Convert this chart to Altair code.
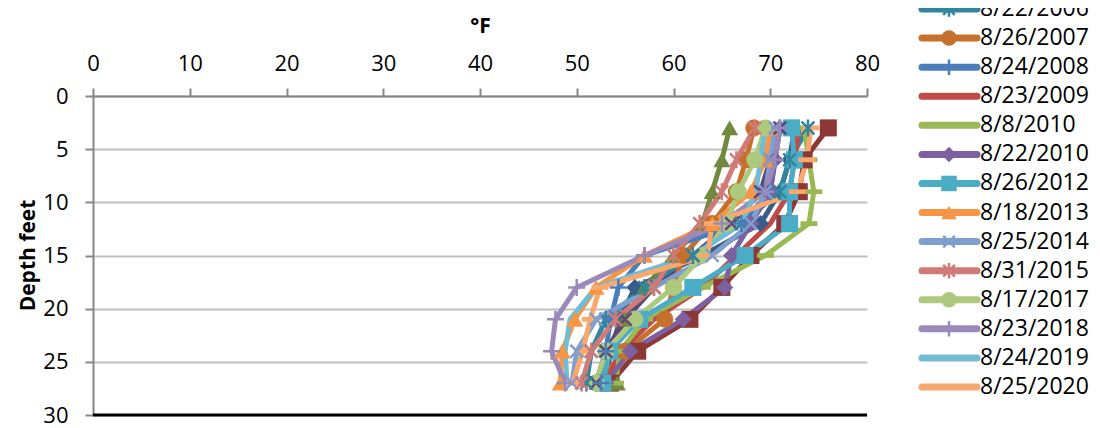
import altair as alt
import pandas as pd

# ---------------- data ----------------
depths = [3, 6, 9, 12, 15, 18, 21, 24, 27]

# series whose legend entries are above the visible area (not labelled in the picture)
s07 = [72.5, 72.0, 71.0, 69.0, 63.0, 56.0, 54.5, 53.5, 53.0]
s08 = [76.0, 73.5, 73.0, 71.5, 68.0, 65.0, 61.7, 56.3, 53.5]
s09 = [65.8, 65.0, 64.0, 63.0, 60.0, 57.0, 55.0, 54.0, 54.2]
s10 = [71.0, 70.0, 69.0, 66.0, 62.0, 58.0, 55.0, 53.0, 52.0]

t_2006 = [73.9, 72.0, 71.0, 67.0, 62.0, 57.0, 53.0, 51.5, 51.0]
t_2007 = [68.3, 67.5, 66.5, 64.0, 61.0, 60.0, 59.1, 55.0, 52.0]
t_2008 = [71.0, 70.5, 70.0, 67.0, 57.0, 54.3, 53.5, 53.0, 52.5]
t_2009 = [73.0, 72.5, 72.0, 70.0, 66.5, 63.0, 58.0, 54.5, 53.0]
t_2010a = [73.5, 74.0, 74.5, 74.0, 69.5, 63.0, 57.0, 54.5, 54.0]
t_2010b = [71.0, 70.5, 70.0, 68.0, 66.0, 65.3, 61.0, 55.5, 53.0]
t_2012 = [72.2, 72.5, 72.0, 72.0, 67.4, 62.0, 56.5, 53.4, 52.7]
t_2013 = [70.0, 69.5, 68.0, 64.0, 57.0, 52.0, 49.8, 48.5, 48.3]
t_2014 = [70.5, 70.0, 69.5, 68.0, 64.0, 58.0, 52.0, 50.0, 49.5]
t_2015 = [68.4, 66.5, 65.0, 62.7, 60.0, 58.0, 54.0, 51.5, 50.5]
t_2017 = [69.5, 68.4, 66.7, 65.5, 63.0, 60.0, 56.0, 53.0, 52.0]
t_2018 = [71.0, 70.5, 69.5, 65.0, 57.0, 50.0, 47.8, 47.4, 48.8]
t_2019 = [69.5, 69.0, 68.5, 67.0, 62.0, 52.0, 49.3, 48.8, 49.0]
t_2020 = [74.2, 73.8, 72.8, 64.0, 63.5, 52.4, 51.4, 50.6, 49.6]

hidden_names = ["s07", "s08", "s09", "s10"]
legend_names = ["8/22/2006", "8/26/2007", "8/24/2008", "8/23/2009", "8/8/2010",
                "8/22/2010", "8/26/2012", "8/18/2013", "8/25/2014", "8/31/2015",
                "8/17/2017", "8/23/2018", "8/24/2019", "8/25/2020"]
all_values = [s07, s08, s09, s10,
              t_2006, t_2007, t_2008, t_2009, t_2010a, t_2010b, t_2012, t_2013,
              t_2014, t_2015, t_2017, t_2018, t_2019, t_2020]
all_names = hidden_names + legend_names

# ---------------- style ----------------
colors = ["#385D8A", "#8C3836", "#71893F", "#5C4776",
          "#31859C", "#C5702D", "#4A7EBB", "#BE4B48", "#98B954", "#7D60A0",
          "#4BACC6", "#F79646", "#7F9FCF", "#D07B78", "#ADC97E", "#9B89BA",
          "#72BCD4", "#F9A86E"]
kinds = ["diamond", "square", "triangle", "x",
         "star", "circle", "plus", "none", "dash", "diamond", "square",
         "triangle", "x", "star", "circle", "plus", "none", "dash"]
paths = {
    "diamond": "diamond",
    "square": "square",
    "triangle": "triangle-up",
    "circle": "circle",
    "x": "M-0.75,-0.75L0.75,0.75M-0.75,0.75L0.75,-0.75",
    "star": "M0,-1L0,1M-0.75,-0.75L0.75,0.75M-0.75,0.75L0.75,-0.75",
    "plus": "M-1,0L1,0M0,-1L0,1",
    "dash": "M-1,-0.28L1,-0.28L1,0.28L-1,0.28Z",
    "none": "circle",
}
shapes = [paths[k] for k in kinds]
filled_kinds = ["diamond", "square", "triangle", "circle", "dash"]
stroked_kinds = ["x", "star", "plus"]
kind_of = dict(zip(all_names, kinds))

rows = []
for name, vals in zip(all_names, all_values):
    for d, t in zip(depths, vals):
        rows.append({"series": name, "depth": d, "temp": t, "kind": kind_of[name]})
df = pd.DataFrame(rows)

legend_df = pd.DataFrame({
    "series": legend_names,
    "idx": list(range(len(legend_names))),
    "kind": [kind_of[n] for n in legend_names],
})

FONT = "Open Sans"
W, H = 774, 319

color = alt.Color("series:N", scale=alt.Scale(domain=all_names, range=colors), legend=None)
shape = alt.Shape("series:N", scale=alt.Scale(domain=all_names, range=shapes), legend=None)

x_enc = alt.X("temp:Q",
              scale=alt.Scale(domain=[0, 80], nice=False),
              axis=alt.Axis(orient="top", values=list(range(0, 81, 10)), grid=False,
                            title="°F", titleFontSize=21, titleFontWeight="bold",
                            titleBaseline="alphabetic", titleY=-64,
                            labelPadding=13, labelFlush=False))
y_enc = alt.Y("depth:Q",
              scale=alt.Scale(domain=[0, 30], reverse=True, nice=False),
              axis=alt.Axis(values=list(range(0, 31, 5)), grid=True,
                            gridColor="#C0C0C0", gridWidth=2,
                            title="Depth feet", titleFontSize=21, titleFontWeight="bold",
                            titleX=-65, titleY=159, titleAlign="center",
                            titleBaseline="middle", titleAngle=-90,
                            labelPadding=17, labelFlush=False))

base = alt.Chart(df)
lines = base.mark_line(strokeWidth=5, strokeJoin="round").encode(
    x=x_enc, y=y_enc, color=color, order="depth:Q")
pts_f = base.transform_filter(
    alt.FieldOneOfPredicate(field="kind", oneOf=filled_kinds)
).mark_point(filled=True, size=290, opacity=1).encode(
    x=x_enc, y=y_enc, color=color, shape=shape)
pts_s = base.transform_filter(
    alt.FieldOneOfPredicate(field="kind", oneOf=stroked_kinds)
).mark_point(filled=False, size=290, opacity=1, strokeWidth=2.5).encode(
    x=x_enc, y=y_enc, color=color, shape=shape)

frame_df = pd.DataFrame({"a": [0], "b": [80], "d": [30]})
bottom = alt.Chart(frame_df).mark_rule(color="black", strokeWidth=3).encode(
    x=alt.X("a:Q", scale=alt.Scale(domain=[0, 80], nice=False)),
    x2="b:Q",
    y=alt.Y("d:Q", scale=alt.Scale(domain=[0, 30], reverse=True, nice=False)))

main = alt.layer(lines, pts_f, pts_s, bottom)

# ---------------- legend ----------------
ly = alt.Y("idx:Q", scale=alt.Scale(domain=[0, 13], range=[-87, 291]), axis=None)
lbase = alt.Chart(legend_df)
leg_line = lbase.mark_rule(strokeWidth=7, strokeCap="round").encode(
    x=alt.value(829), x2=alt.value(884), y=ly, color=color)
leg_f = lbase.transform_filter(
    alt.FieldOneOfPredicate(field="kind", oneOf=filled_kinds)
).mark_point(filled=True, size=240, opacity=1).encode(
    x=alt.value(856), y=ly, color=color, shape=shape)
leg_s = lbase.transform_filter(
    alt.FieldOneOfPredicate(field="kind", oneOf=stroked_kinds)
).mark_point(filled=False, size=240, opacity=1, strokeWidth=2.5).encode(
    x=alt.value(856), y=ly, color=color, shape=shape)
leg_text = lbase.mark_text(align="left", baseline="middle", fontSize=23,
                           font=FONT, color="black").encode(
    x=alt.value(887), y=ly, text="series:N")
legend = alt.layer(leg_line, leg_f, leg_s, leg_text)

chart = alt.layer(main, legend).resolve_scale(y="independent").properties(
    width=W, height=H,
    padding={"left": 85, "top": 88, "right": 225, "bottom": 12},
    autosize=alt.AutoSizeParams(type="none"),
).configure_view(stroke=None).configure_axis(
    labelFont=FONT, labelFontSize=22, labelColor="black",
    titleFont=FONT, titleColor="black",
    domainColor="#868686", domainWidth=2,
    tickColor="#868686", tickWidth=2, tickSize=8,
)

chart.save("out.html", embed_options={"renderer": "svg", "actions": False})
